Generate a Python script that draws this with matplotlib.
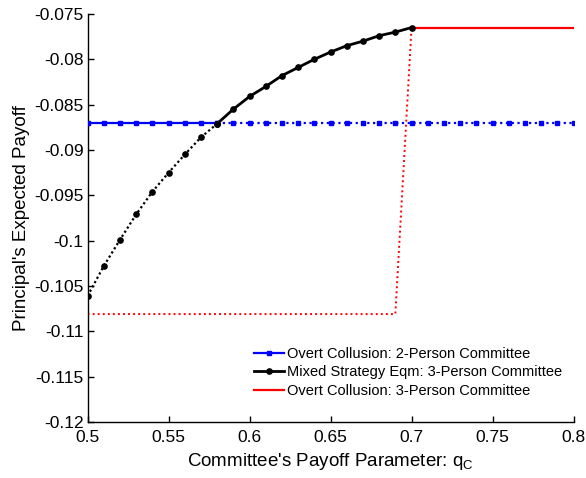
import matplotlib
matplotlib.use("Agg")
import matplotlib.pyplot as plt
from matplotlib.ticker import FormatStrFormatter

plt.rcParams['font.family'] = ['Liberation Sans', 'DejaVu Sans']
plt.rcParams['axes.unicode_minus'] = False

# q_C grid
q_all = [0.50, 0.51, 0.52, 0.53, 0.54, 0.55, 0.56, 0.57, 0.58, 0.59, 0.60,
         0.61, 0.62, 0.63, 0.64, 0.65, 0.66, 0.67, 0.68, 0.69, 0.70,
         0.71, 0.72, 0.73, 0.74, 0.75, 0.76, 0.77, 0.78, 0.79, 0.80]

# Overt collusion, 2-person committee
blue_vals = [-0.0870] * 31

# Mixed strategy eqm, 3-person committee (q = 0.50 .. 0.70)
q_mixed = q_all[:21]
black_vals = [-0.1061, -0.1028, -0.0999, -0.0971, -0.0946, -0.0925, -0.0905,
              -0.0886, -0.0871, -0.0855, -0.0841, -0.0830, -0.0818, -0.0809,
              -0.0800, -0.0792, -0.0785, -0.0780, -0.0774, -0.0770, -0.0765]

# Overt collusion, 3-person committee
red_vals = [-0.1081] * 20 + [-0.0765] * 11

split_b = 8    # index of q = 0.58
split_r = 20   # index of q = 0.70

labels = ["Overt Collusion: 2-Person Committee",
          "Mixed Strategy Eqm: 3-Person Committee",
          "Overt Collusion: 3-Person Committee"]

fig = plt.figure(figsize=(5.86, 4.78), dpi=100)
ax = fig.add_axes([0.1495, 0.1172, 0.8292, 0.8536])

# blue
ax.plot(q_all[:split_b + 1], blue_vals[:split_b + 1], color='#0000ff', lw=1.6,
        marker='s', ms=2.2, label=labels[0], zorder=3)
ax.plot(q_all[split_b:], blue_vals[split_b:], color='#0000ff', lw=1.6,
        ls=(0, (1, 1.6)), marker='s', ms=3.2, zorder=3)

# black
ax.plot(q_mixed[:split_b + 1], black_vals[:split_b + 1], color='black', lw=1.6,
        ls=(0, (1, 1.2)), marker='o', ms=3.8, zorder=4)
ax.plot(q_mixed[split_b:], black_vals[split_b:], color='black', lw=2.0,
        marker='o', ms=3.8, label=labels[1], zorder=4)

# red
ax.plot(q_all[:split_r + 1], red_vals[:split_r + 1], color='#ff0000', lw=1.4,
        ls=(0, (1, 1.6)), zorder=2)
ax.plot(q_all[split_r:], red_vals[split_r:], color='#ff0000', lw=1.6,
        label=labels[2], zorder=2)

ax.set_xlim(0.5, 0.8)
ax.set_ylim(-0.12, -0.075)
ax.set_xticks([0.5, 0.55, 0.6, 0.65, 0.7, 0.75, 0.8])
ax.set_yticks([-0.12, -0.115, -0.11, -0.105, -0.1, -0.095, -0.09, -0.085, -0.08, -0.075])
ax.xaxis.set_major_formatter(FormatStrFormatter('%g'))
ax.yaxis.set_major_formatter(FormatStrFormatter('%g'))
ax.tick_params(direction='in', length=4, width=1, labelsize=12.5)
ax.tick_params(axis='x', pad=6)
ax.tick_params(axis='y', pad=3)
ax.spines['top'].set_visible(False)
ax.spines['right'].set_visible(False)
for s in ('left', 'bottom'):
    ax.spines[s].set_linewidth(1.0)

ax.set_xlabel(r"Committee's Payoff Parameter: q$_\mathregular{C}$", fontsize=13.5, labelpad=4)
ax.set_ylabel("Principal's Expected Payoff", fontsize=13.5, labelpad=3)

ax.legend(loc='lower left', bbox_to_anchor=(0.33, 0.045), frameon=False,
          fontsize=10.5, handlelength=2.1, handletextpad=0.2, labelspacing=0.3,
          borderaxespad=0)

fig.savefig("out.png", dpi=100)
